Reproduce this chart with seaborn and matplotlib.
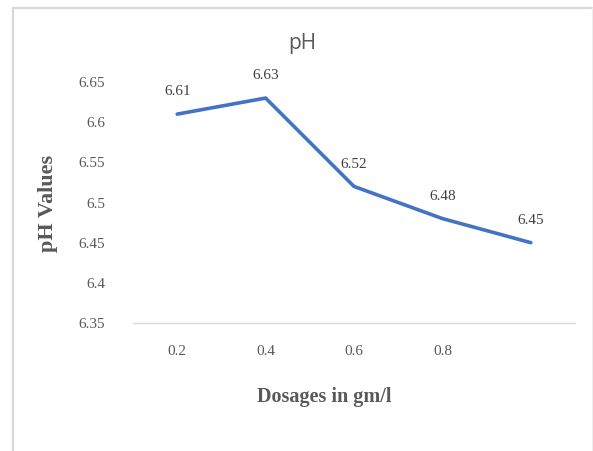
import pandas as pd
import numpy as np
import matplotlib
matplotlib.use("Agg")
import matplotlib.pyplot as plt
import seaborn as sns
from matplotlib.lines import Line2D

# chart data
dosages = ["0.2", "0.4", "0.6", "0.8", ""]
ph_values = [6.61, 6.63, 6.52, 6.48, 6.45]
y_ticks = [6.35, 6.4, 6.45, 6.5, 6.55, 6.6, 6.65]
y_tick_labels = ["6.35", "6.4", "6.45", "6.5", "6.55", "6.6", "6.65"]

df = pd.DataFrame({"pos": np.arange(len(dosages)), "ph": ph_values})

sns.set_style("white")
text_grey = "#595959"

fig = plt.figure(figsize=(5.93, 4.51), dpi=100)
ax = fig.add_axes([133 / 593, 1 - 323 / 451, 442 / 593, (323 - 82) / 451])

sns.lineplot(data=df, x="pos", y="ph", ax=ax, color="#4472C4", linewidth=2.6)

# data labels above each point
for x, v in zip(df["pos"], df["ph"]):
    ax.annotate(f"{v:.2f}", (x, v), xytext=(0, 16), textcoords="offset points",
                ha="center", va="center", fontsize=11, color="#404040",
                family="Liberation Serif", annotation_clip=False)

ax.set_xlim(-0.5, len(dosages) - 0.5)
ax.set_ylim(6.35, 6.65)
ax.set_xticks(df["pos"])
ax.set_xticklabels(dosages)
ax.set_yticks(y_ticks)
ax.set_yticklabels(y_tick_labels)
ax.tick_params(axis="both", length=0, labelsize=11, labelcolor=text_grey)
ax.tick_params(axis="y", pad=20)
ax.tick_params(axis="x", pad=16)
for lab in ax.get_xticklabels() + ax.get_yticklabels():
    lab.set_family("Liberation Serif")

for s in ["left", "right", "top"]:
    ax.spines[s].set_visible(False)
ax.spines["bottom"].set_color("#d9d9d9")
ax.spines["bottom"].set_linewidth(1)

ax.set_xlabel("")
ax.set_ylabel("")
fig.text(302 / 593, 1 - 43 / 451, "pH", ha="center", va="center",
         fontsize=15, color=text_grey, family="Open Sans")
fig.text(48 / 593, 1 - 203 / 451, "pH Values", rotation=90, ha="center", va="center",
         fontsize=16, fontweight="bold", color=text_grey, family="Liberation Serif")
fig.text(324 / 593, 1 - 397 / 451, "Dosages in gm/l", ha="center", va="center",
         fontsize=14.5, fontweight="bold", color=text_grey, family="Liberation Serif")

# chart area border (cropped)
border = "#d9d9d9"
fig.add_artist(Line2D([13 / 593, 13 / 593], [0, 1 - 8 / 451], color=border, lw=1.6))
fig.add_artist(Line2D([13 / 593, 592 / 593], [1 - 8 / 451, 1 - 8 / 451], color=border, lw=1.6))
fig.add_artist(Line2D([592 / 593, 592 / 593], [0, 1 - 8 / 451], color="#eeeeee", lw=1))

fig.savefig("out.png", dpi=100)
